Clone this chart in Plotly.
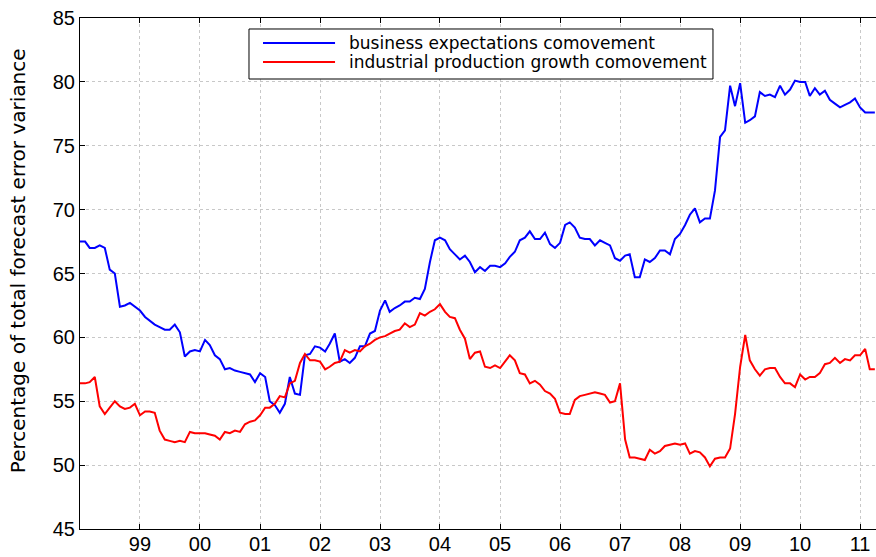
import pandas as pd
import plotly.graph_objects as go

dates = pd.date_range("1998-01-01", periods=160, freq="MS")

business = [
    67.5, 67.5, 67.0, 67.0, 67.2, 67.0, 65.3, 65.0, 62.4, 62.5, 62.7, 62.4,
    62.1, 61.6, 61.3, 61.0, 60.8, 60.6, 60.6, 61.0, 60.4, 58.5, 58.9, 59.0,
    58.9, 59.8, 59.4, 58.6, 58.3, 57.5, 57.6, 57.4, 57.3, 57.2, 57.1, 56.5,
    57.2, 56.9, 55.0, 54.7, 54.1, 54.8, 56.9, 55.6, 55.5, 58.6, 58.7, 59.3,
    59.2, 58.9, 59.5, 60.3, 58.1, 58.3, 58.0, 58.4, 59.3, 59.3, 60.3, 60.5,
    62.1, 62.9, 62.0, 62.3, 62.5, 62.8, 62.8, 63.1, 63.0, 63.8, 65.9, 67.6,
    67.8, 67.6, 66.9, 66.5, 66.1, 66.4, 65.9, 65.1, 65.5, 65.2, 65.6, 65.6,
    65.5, 65.8, 66.3, 66.7, 67.6, 67.8, 68.3, 67.7, 67.7, 68.2, 67.3, 67.0,
    67.4, 68.8, 69.0, 68.6, 67.8, 67.7, 67.7, 67.2, 67.6, 67.4, 67.2, 66.2,
    66.0, 66.4, 66.5, 64.7, 64.7, 66.1, 65.9, 66.2, 66.8, 66.8, 66.5, 67.7,
    68.1, 68.8, 69.6, 70.1, 69.0, 69.3, 69.3, 71.5, 75.7, 76.2, 79.7, 78.1,
    79.9, 76.8, 77.0, 77.3, 79.2, 78.9, 79.0, 78.8, 79.7, 79.0, 79.4, 80.1,
    80.0, 80.0, 78.9, 79.5, 79.0, 79.3, 78.6, 78.3, 78.0, 78.2, 78.4, 78.7,
    78.0, 77.6, 77.6, 77.6,
]

industrial = [
    56.4, 56.4, 56.5, 56.9, 54.6, 54.0, 54.5, 55.0, 54.6, 54.4, 54.5, 54.8,
    53.9, 54.2, 54.2, 54.1, 52.7, 52.0, 51.9, 51.8, 51.9, 51.8, 52.6, 52.5,
    52.5, 52.5, 52.4, 52.3, 52.0, 52.6, 52.5, 52.7, 52.6, 53.2, 53.4, 53.5,
    53.9, 54.5, 54.5, 54.8, 55.4, 55.3, 56.4, 56.6, 58.0, 58.7, 58.2, 58.2,
    58.1, 57.5, 57.7, 58.0, 58.1, 59.0, 58.8, 59.0, 58.9, 59.3, 59.5, 59.8,
    60.0, 60.1, 60.3, 60.5, 60.6, 61.1, 60.8, 61.0, 61.9, 61.7, 62.0, 62.2,
    62.6, 62.0, 61.6, 61.5, 60.6, 59.9, 58.3, 58.8, 58.9, 57.7, 57.6, 57.8,
    57.6, 58.1, 58.6, 58.2, 57.2, 57.1, 56.4, 56.6, 56.3, 55.8, 55.6, 55.2,
    54.1, 54.0, 54.0, 55.1, 55.4, 55.5, 55.6, 55.7, 55.6, 55.5, 54.9, 55.0,
    56.4, 52.0, 50.6, 50.6, 50.5, 50.4, 51.2, 50.9, 51.1, 51.5, 51.6, 51.7,
    51.6, 51.7, 50.9, 51.1, 51.0, 50.6, 49.9, 50.5, 50.6, 50.6, 51.3, 54.0,
    57.7, 60.2, 58.2, 57.5, 57.0, 57.5, 57.6, 57.6, 56.9, 56.4, 56.4, 56.1,
    57.1, 56.7, 56.9, 56.9, 57.2, 57.9, 58.0, 58.4, 58.0, 58.3, 58.2, 58.6,
    58.6, 59.1, 57.5, 57.5,
]

series_names = ["business expectations comovement",
                "industrial production growth comovement"]
series_colors = ["#0000ff", "#ff0000"]

year_ticks = pd.date_range("1999-01-01", "2011-01-01", freq="YS")
year_labels = ["99", "00", "01", "02", "03", "04", "05", "06", "07", "08", "09", "10", "11"]
y_ticks = [45, 50, 55, 60, 65, 70, 75, 80, 85]
y_title = "Percentage of total forecast error variance"

fig = go.Figure()
for vals, nm, col in zip([business, industrial], series_names, series_colors):
    fig.add_trace(go.Scatter(x=dates, y=vals, mode="lines",
                             line=dict(color=col, width=2), name=nm,
                             showlegend=False, hoverinfo="skip"))

# legend box drawn in paper coordinates (MATLAB style)
fig.add_shape(type="rect", xref="paper", yref="paper",
              x0=0.2123, x1=0.7952, y0=0.8806, y1=0.9785,
              line=dict(color="black", width=1), fillcolor="white", layer="above")
legend_rows = [0.9511, 0.9139]
for yrow, nm, col in zip(legend_rows, series_names, series_colors):
    fig.add_shape(type="line", xref="paper", yref="paper",
                  x0=0.2299, x1=0.3204, y0=yrow, y1=yrow,
                  line=dict(color=col, width=2), layer="above")
    fig.add_annotation(xref="paper", yref="paper", x=0.3354, y=yrow,
                       xanchor="left", yanchor="middle", text=nm, showarrow=False,
                       font=dict(family="DejaVu Sans, sans-serif", size=17, color="black"))

# y axis title
fig.add_annotation(xref="paper", yref="paper", x=-0.0779, y=0.526,
                   xanchor="center", yanchor="middle", textangle=-90,
                   text=y_title, showarrow=False,
                   font=dict(family="DejaVu Sans, sans-serif", size=20, color="black"))

fig.update_layout(
    width=876, height=557,
    margin=dict(l=80, r=0, t=18, b=28, autoexpand=False),
    paper_bgcolor="white", plot_bgcolor="white",
    font=dict(family="Liberation Sans, Arial, sans-serif", color="black"),
    showlegend=False, hovermode=False,
)
fig.update_xaxes(
    range=[pd.Timestamp("1998-01-01"), pd.Timestamp("2011-04-08")],
    tickvals=year_ticks, ticktext=year_labels,
    ticks="inside", ticklen=5, tickcolor="black",
    showline=True, linecolor="black", linewidth=1, mirror="ticks",
    showgrid=True, gridcolor="#c8c8c8", griddash="dot", gridwidth=1,
    tickfont=dict(size=20), ticklabelstandoff=-3,
    zeroline=False, automargin=False,
)
fig.update_yaxes(
    range=[45, 85], tickvals=y_ticks,
    ticks="inside", ticklen=5, tickcolor="black",
    showline=True, linecolor="black", linewidth=1, mirror=False,
    showgrid=True, gridcolor="#c8c8c8", griddash="dot", gridwidth=1,
    tickfont=dict(size=20), zeroline=False, automargin=False,
)

fig.write_html("out.html", config={"displayModeBar": False},
               post_script="document.body.style.margin='0px';")
